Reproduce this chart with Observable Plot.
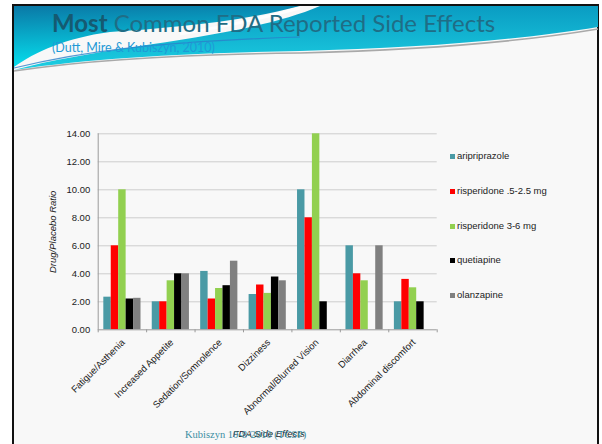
<!DOCTYPE html>
<html>
<head>
<meta charset="utf-8">
<script src="https://cdn.jsdelivr.net/npm/d3@7"></script>
<script src="https://cdn.jsdelivr.net/npm/@observablehq/plot@0.6"></script>
<style>
  html, body { margin: 0; padding: 0; background: #ffffff; }
  body { width: 602px; height: 444px; position: relative; overflow: hidden; font-family: "Liberation Sans", Arial, sans-serif; }
  .slide { position: absolute; left: 12px; top: 4px; width: 583px; height: 460px; border: 2px solid #111; border-bottom: none; background: #f8f8f8; }
  .header { position: absolute; left: 0; top: 0; }
  .title { position: absolute; left: 52px; top: 11px; font-family: Lato, "Open Sans", sans-serif; font-size: 24px; line-height: 24px; color: #1f6d86; white-space: nowrap; }
  .title b { font-weight: 700; color: #155a71; }
  .subtitle { position: absolute; left: 52px; top: 42px; font-family: Lato, "Open Sans", sans-serif; font-size: 12.5px; line-height: 12.5px; color: #1f9ad6; white-space: nowrap; }
  #chart { position: absolute; left: 0; top: 114px; }
  .legend { position: absolute; left: 450px; top: 0; font-size: 9.5px; color: #222; }
  .legend .item { position: absolute; left: 0; white-space: nowrap; height: 10px; line-height: 10px; }
  .legend .sw { position: absolute; left: 0; top: 2.5px; width: 5px; height: 5px; }
  .legend .lb { position: absolute; left: 7px; top: 0; }
  .footer { position: absolute; left: 185px; top: 429px; font-family: "Liberation Serif", serif; font-size: 10.5px; color: #3b8ea3; white-space: nowrap; }
</style>
</head>
<body>
<div class="slide"></div>
<svg class="header" width="602" height="80">
  <defs>
    <linearGradient id="tealLeft" x1="0" y1="0" x2="0.15" y2="1">
      <stop offset="0" stop-color="#0a78a6"/>
      <stop offset="1" stop-color="#06e0ee"/>
    </linearGradient>
    <linearGradient id="tealRight" x1="0" y1="0" x2="0" y2="1">
      <stop offset="0" stop-color="#0a9cc2"/>
      <stop offset="1" stop-color="#1ccfe2"/>
    </linearGradient>
  </defs>
  <path d="M14,6 H300 C 240,22 170,28 110,32 C 65,38 35,52 14,67 Z" fill="url(#tealLeft)"/>
  <path d="M14,70 C 110,44 240,40 320,6 H598 V27 C 520,40 420,48 300,51 C 200,53 100,57 14,70 Z" fill="url(#tealRight)"/>
  <path d="M14,71 C 100,58 200,54 300,53 C 420,50 520,42 598,29" fill="none" stroke="#a9a9a9" stroke-width="1.5"/>
  <path d="M14,68 C 80,52 150,42 300,37" fill="none" stroke="#2a7fc9" stroke-width="1.2" opacity="0.8"/>
  <path d="M180,34 C 230,26 270,16 300,8" fill="none" stroke="#ffffff" stroke-width="3" opacity="0.8"/>
</svg>
<div class="title"><b>Most</b> Common FDA Reported Side Effects</div>
<div class="subtitle">(Dutt, Mire &amp; Kubiszyn, 2010)</div>
<div id="chart"></div>
<div class="legend" id="legend"></div>
<div class="footer">Kubiszyn 10-8-2010 (TCSP)</div>
<script>
// Side effects shown on the x axis
const categories = [
  "Fatigue/Asthenia",
  "Increased Appetite",
  "Sedation/Somnolence",
  "Dizziness",
  "Abnormal/Blurred Vision",
  "Diarrhea",
  "Abdominal discomfort"
];

// Medications (legend order)
const series = [
  "aripriprazole",
  "risperidone .5-2.5 mg",
  "risperidone 3-6 mg",
  "quetiapine",
  "olanzapine"
];

// Drug/placebo ratios per side effect (null = not reported)
const aripiprazole    = [2.33, 2.00, 4.17, 2.52, 10.00, 6.00, 2.00];
const risperidoneLow  = [6.00, 2.00, 2.20, 3.20, 8.00, 4.00, 3.60];
const risperidoneHigh = [10.00, 3.50, 2.95, 2.60, 14.00, 3.50, 3.00];
const quetiapine      = [2.20, 4.00, 3.15, 3.77, 2.00, null, 2.00];
const olanzapine      = [2.25, 4.00, 4.90, 3.50, null, 6.00, null];

const yTicks = [0, 2, 4, 6, 8, 10, 12, 14];

const colors = ["#4a9aa5", "#ff0000", "#92d050", "#000000", "#808080"];

const valuesBySeries = [aripiprazole, risperidoneLow, risperidoneHigh, quetiapine, olanzapine];

// Each category occupies one unit on x; the five bars sit side by side inside it
const groupPad = 0.116;
const barW = (1 - 2 * groupPad) / series.length;

const rows = [];
valuesBySeries.forEach((vals, j) => {
  vals.forEach((v, i) => {
    if (v == null) return;
    rows.push({
      category: categories[i],
      series: series[j],
      value: v,
      x1: i + groupPad + j * barW,
      x2: i + groupPad + (j + 1) * barW
    });
  });
});

const chart = Plot.plot({
  width: 602,
  height: 330,
  marginLeft: 97.7,
  marginRight: 165.3,
  marginTop: 19.3,
  marginBottom: 114.7,
  style: { background: "transparent", fontFamily: "'Liberation Sans', Arial, sans-serif", fontSize: "9.5px", color: "#222" },
  x: { domain: [0, categories.length], axis: null },
  y: { domain: [0, 14], axis: null },
  color: { domain: series, range: colors },
  marks: [
    Plot.gridY(yTicks.filter(t => t > 0), { stroke: "#cdcdcd", strokeOpacity: 1, strokeWidth: 1 }),
    Plot.rectY(rows, { x1: "x1", x2: "x2", y: "value", fill: "series", inset: 0 }),
    Plot.ruleY([0], { stroke: "#9a9a9a" }),
    Plot.ruleX([0], { stroke: "#9a9a9a" }),
    Plot.axisX(d3.range(categories.length + 1), { tickSize: 3, tickFormat: () => "", stroke: "#9a9a9a" }),
    Plot.axisY(yTicks, { tickSize: 0, tickPadding: 8, tickFormat: d3.format(".2f"), fontSize: "9.5px", label: null }),
    Plot.text(categories, {
      x: (d, i) => i + 0.5,
      y: 0,
      text: d => d,
      rotate: -45,
      textAnchor: "end",
      dx: 1,
      dy: 11,
      fontSize: "9.5px",
      fill: "#222"
    }),
    Plot.text(["Drug/Placebo Ratio"], {
      frameAnchor: "left",
      rotate: -90,
      textAnchor: "middle",
      lineAnchor: "middle",
      dx: -45,
      fontStyle: "italic",
      fontSize: "9.5px",
      fill: "#222"
    }),
    Plot.text(["FDA Side Effects"], {
      frameAnchor: "bottom",
      textAnchor: "middle",
      lineAnchor: "middle",
      dx: 1,
      dy: 104,
      fontStyle: "italic",
      fontSize: "9.5px",
      fill: "#222"
    })
  ]
});
document.getElementById("chart").appendChild(chart);

// Legend to the right of the plot
const legendY = [156, 191, 226, 260, 295];
const legend = document.getElementById("legend");
series.forEach((s, j) => {
  const item = document.createElement("div");
  item.className = "item";
  item.style.top = (legendY[j] - 5) + "px";
  item.innerHTML = `<span class="sw" style="background:${colors[j]}"></span><span class="lb">${s}</span>`;
  legend.appendChild(item);
});
</script>
</body>
</html>
